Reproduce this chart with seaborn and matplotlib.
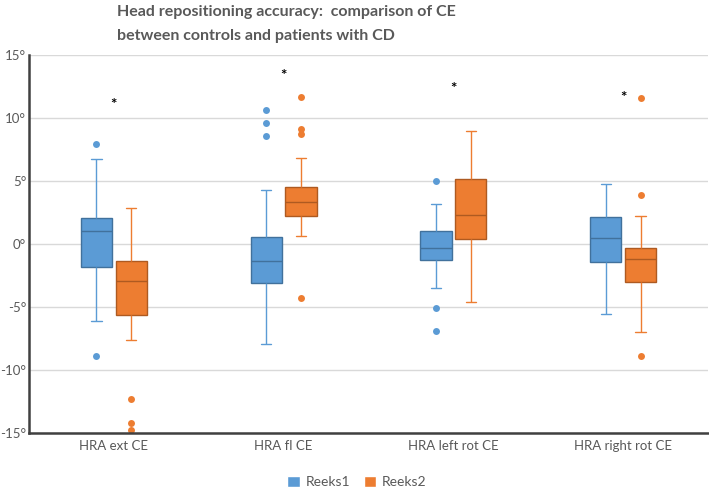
import numpy as np
import pandas as pd
import matplotlib.pyplot as plt
import seaborn as sns
from matplotlib.patches import Patch

categories = ["HRA ext CE", "HRA fl CE", "HRA left rot CE", "HRA right rot CE"]
series = ["Reeks1", "Reeks2"]

# values (degrees), one list per box
reeks1_ext = [-8.9, -6.1, -4.2, -2.9, -1.85, -1.0, -0.2, 0.5, 1.06, 1.3, 1.6, 1.8, 2.04, 3.5, 5.2, 6.75, 7.96]
reeks2_ext = [-14.76, -14.23, -12.3, -7.62, -5.61, -4.8, -4.0, -3.4, -2.94, -2.5, -2.1, -1.7, -1.37, -0.6, 0.4, 1.5, 2.83]
reeks1_fl = [-7.96, -6.2, -4.8, -3.6, -3.07, -2.6, -2.1, -1.7, -1.35, -0.8, -0.3, 0.2, 0.58, 4.26, 8.54, 9.58, 10.61]
reeks2_fl = [-4.26, 0.66, 1.5, 2.0, 2.25, 2.6, 2.9, 3.1, 3.36, 3.7, 4.0, 4.3, 4.5, 6.83, 8.73, 9.1, 11.64]
reeks1_left = [-6.93, -5.05, -3.52, -2.1, -1.24, -0.9, -0.7, -0.5, -0.32, 0.1, 0.5, 0.8, 1.03, 1.8, 2.5, 3.15, 5.03]
reeks2_left = [-4.63, -2.5, -1.0, 0.0, 0.42, 1.0, 1.5, 2.0, 2.3, 3.0, 3.8, 4.6, 5.19, 6.0, 7.0, 8.0, 9.0]
reeks1_right = [-5.58, -4.0, -2.8, -2.0, -1.4, -0.8, -0.3, 0.1, 0.48, 1.0, 1.5, 1.9, 2.14, 2.9, 3.6, 4.2, 4.74]
reeks2_right = [-8.86, -6.98, -5.0, -3.8, -3.04, -2.4, -1.9, -1.5, -1.19, -0.9, -0.7, -0.5, -0.32, 1.0, 2.22, 3.85, 11.59]

# height of the significance asterisk per category
star_y = [11.0, 13.3, 12.3, 11.6]

boxes = {
    ("HRA ext CE", "Reeks1"): reeks1_ext, ("HRA ext CE", "Reeks2"): reeks2_ext,
    ("HRA fl CE", "Reeks1"): reeks1_fl, ("HRA fl CE", "Reeks2"): reeks2_fl,
    ("HRA left rot CE", "Reeks1"): reeks1_left, ("HRA left rot CE", "Reeks2"): reeks2_left,
    ("HRA right rot CE", "Reeks1"): reeks1_right, ("HRA right rot CE", "Reeks2"): reeks2_right,
}
rows = []
for (cat, ser), vals in boxes.items():
    for v in vals:
        rows.append({"cat": cat, "series": ser, "val": v})
df = pd.DataFrame(rows)

blue, orange = "#5B9BD5", "#ED7D31"
blue_dark, orange_dark = "#41719C", "#AE5A21"
grey = "#595959"

sns.set_style("white")
plt.rcParams["font.family"] = ["Lato", "DejaVu Sans"]

fig = plt.figure(figsize=(7.09, 4.98), dpi=100)
ax = fig.add_axes([29 / 709, 1 - 433 / 498, 679 / 709, 378 / 498])

sns.boxplot(data=df, x="cat", y="val", hue="series", order=categories, hue_order=series,
            palette=[blue, orange], saturation=1, width=0.41, gap=0.1, whis=1.5,
            linewidth=1, flierprops=dict(marker="o", markersize=5, markeredgewidth=0),
            legend=False, ax=ax)

for cont, fc, dc in zip(ax.containers, [blue, orange], [blue_dark, orange_dark]):
    for b in cont.boxes:
        b.set_edgecolor(dc)
        b.set_facecolor(fc)
    for l in cont.medians:
        l.set_color(dc)
    for l in cont.whiskers:
        l.set_color(fc)
    for l in cont.caps:
        l.set_color(fc)
        x = np.asarray(l.get_xdata(), dtype=float)
        c = x.mean()
        l.set_xdata([c - 0.03, c + 0.03])
    for l in cont.fliers:
        l.set_markerfacecolor(fc)
        l.set_markeredgecolor(fc)

for i, y in enumerate(star_y):
    ax.text(i, y, "*", ha="center", va="center", fontsize=11, fontweight="bold", color="black")

ax.set_xlim(-0.5, 3.5)
ax.set_ylim(-15, 15)
yt = [-15, -10, -5, 0, 5, 10, 15]
ax.set_yticks(yt)
ax.set_yticklabels([f"{v}°" for v in yt])
ax.set_xlabel("")
ax.set_ylabel("")
ax.yaxis.grid(True, color="#D9D9D9", linewidth=1)
ax.set_axisbelow(True)
ax.tick_params(length=0, labelsize=9.5, labelcolor=grey)
ax.tick_params(axis="y", pad=2)
ax.tick_params(axis="x", pad=5)
for s in ["top", "right"]:
    ax.spines[s].set_visible(False)
for s in ["left", "bottom"]:
    ax.spines[s].set_color("#404040")
    ax.spines[s].set_linewidth(1.8)

fig.text(117 / 709, 1 - 12 / 498, "Head repositioning accuracy:  comparison of CE",
         ha="left", va="center", fontsize=11.5, fontweight="bold", color=grey)
fig.text(117 / 709, 1 - 36 / 498, "between controls and patients with CD",
         ha="left", va="center", fontsize=11.5, fontweight="bold", color=grey)

handles = [Patch(facecolor=blue, label="Reeks1"), Patch(facecolor=orange, label="Reeks2")]
fig.legend(handles=handles, loc="center", bbox_to_anchor=(357 / 709, 1 - 482 / 498), ncol=2,
           frameon=False, handlelength=0.9, handleheight=0.9, handletextpad=0.4,
           columnspacing=1.0, fontsize=10, labelcolor=grey)

fig.savefig("out.png", dpi=100)
